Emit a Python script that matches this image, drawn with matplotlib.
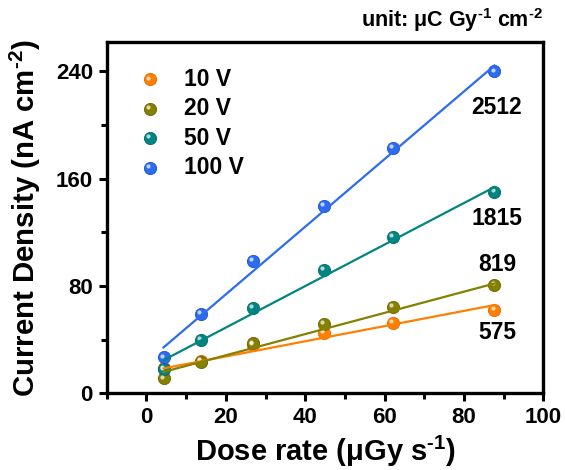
import numpy as np
import matplotlib.pyplot as plt
from matplotlib.transforms import ScaledTranslation
from matplotlib.ticker import MultipleLocator

plt.rcParams['font.family'] = ['Liberation Sans', 'DejaVu Sans']
plt.rcParams['font.weight'] = 'bold'
plt.rcParams['mathtext.fontset'] = 'custom'
plt.rcParams['mathtext.rm'] = 'Liberation Sans:bold'
plt.rcParams['mathtext.bf'] = 'Liberation Sans:bold'
plt.rcParams['mathtext.default'] = 'bf'

# data
dose = [4.3, 13.7, 26.9, 44.8, 62.1, 87.7]
labels = ['10 V', '20 V', '50 V', '100 V']
j10 = [18.6, 24.3, 36.0, 45.2, 52.6, 62.5]
j20 = [11.2, 23.6, 37.2, 52.0, 64.5, 80.6]
j50 = [17.9, 39.7, 64.0, 91.8, 116.6, 150.0]
j100 = [26.8, 59.0, 98.8, 139.5, 183.0, 240.0]
# linear fits as drawn in the figure
slopes = [0.566, 0.79, 1.547, 2.52]
intercepts = [16.2, 12.6, 18.1, 23.4]
sens = ['575', '819', '1815', '2512']
sens_y = [45.5, 96, 130, 213]

colors = ['#ff8000', '#858000', '#008580', '#2c6cf0']
edges = ['#e06a00', '#6a6600', '#006a66', '#1c50c8']
series = [j10, j20, j50, j100]

fig = plt.figure(figsize=(5.65, 4.70), dpi=100)
ax = fig.add_axes([0.189, 0.163, 0.7726, 0.748])

hl = ax.transData + ScaledTranslation(-1.3 / 72, 1.3 / 72, fig.dpi_scale_trans)
for y, c, e in zip(series, colors, edges):
    ax.plot(dose, y, 'o', ms=8.8, mfc=c, mec=e, mew=0.6, zorder=3)
    ax.plot(dose, y, 'o', ms=3.0, mfc='white', mec='none', alpha=0.7,
            transform=hl, zorder=4)

xfit = np.array([dose[0], dose[-1]])
for k, c in zip(range(4), colors):
    ax.plot(xfit, slopes[k] * xfit + intercepts[k], '-', color=c, lw=1.6, zorder=5)

for s, yy in zip(sens, sens_y):
    ax.text(dose[-1] + 0.6, yy, s, ha='center', va='center', fontsize=16.5,
            fontweight='bold')

# legend drawn by hand so the markers keep their highlight
leg_tr = ax.transAxes
htr = leg_tr + ScaledTranslation(-1.3 / 72, 1.3 / 72, fig.dpi_scale_trans)
for i, (lab, c, e) in enumerate(zip(labels, colors, edges)):
    yl = 0.893 - i * 0.0835
    ax.plot(0.099, yl, 'o', ms=8.8, mfc=c, mec=e, mew=0.6, transform=leg_tr)
    ax.plot(0.099, yl, 'o', ms=3.0, mfc='white', mec='none', alpha=0.7,
            transform=htr)
    ax.text(0.177, yl, lab, transform=leg_tr, ha='left', va='center',
            fontsize=16.5, fontweight='bold')

ax.set_xlim(-10, 100)
ax.set_ylim(0, 262)
ax.xaxis.set_major_locator(MultipleLocator(20))
ax.xaxis.set_minor_locator(MultipleLocator(10))
ax.yaxis.set_major_locator(MultipleLocator(80))
ax.yaxis.set_minor_locator(MultipleLocator(40))
ax.tick_params(which='major', length=6, width=2.2, labelsize=16, pad=4)
ax.tick_params(which='minor', length=4, width=2.2)
for sp in ax.spines.values():
    sp.set_linewidth(2.4)

ax.set_xlabel('Dose rate (μGy s$^{\\text{-1}}$)', fontsize=21, fontweight='bold',
              labelpad=4)
ax.set_ylabel('Current Density (nA cm$^{\\text{-2}}$)', fontsize=21.2,
              fontweight='bold', labelpad=9)
fig.text(0.962, 0.957, 'unit: μC Gy$^{\\text{-1}}$ cm$^{\\text{-2}}$', ha='right',
         va='center', fontsize=15.5, fontweight='bold')

fig.savefig('out.png', dpi=100)
